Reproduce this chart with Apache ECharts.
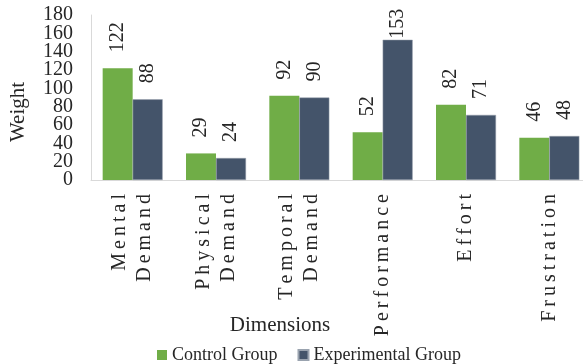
<!DOCTYPE html>
<html>
<head>
<meta charset="utf-8">
<script src="https://cdn.jsdelivr.net/npm/echarts@6/dist/echarts.min.js"></script>
<style>
  html, body { margin: 0; padding: 0; background: #fff; }
  #chart { width: 583px; height: 364px; }
</style>
</head>
<body>
<div id="chart"></div>
<script>
// NASA-TLX dimension weights for both groups
const categories = ['Mental\nDemand', 'Physical\nDemand', 'Temporal\nDemand', 'Performance', 'Effort', 'Frustration'];
const controlGroup = [122, 29, 92, 52, 82, 46];
const experimentalGroup = [88, 24, 90, 153, 71, 48];
const yTickValues = [0, 20, 40, 60, 80, 100, 120, 140, 160, 180];

const SERIF = '"Liberation Serif", "Times New Roman", serif';
const TEXT = '#262626';
const AXIS_LINE = '#D9D9D9';
const Y_MIN = yTickValues[0];
const Y_MAX = yTickValues[yTickValues.length - 1];

// Value labels sit above the bar; tall bars get their label tucked close
// to the bar top so it stays inside the plot.
function withLabels(values) {
  return values.map(v => (Y_MAX - v) < 32 ? { value: v, label: { distance: 1 } } : v);
}

// Spread out the letters of the category names
function spaced(text) {
  return text.split('\n').map(line => line.split('').join('\u2009')).join('\n');
}

// The tick labels are packed tighter than their text height, so they are
// split over two overlaid axes sharing one scale; that keeps every label shown.
function yAxisPart(values, showLine) {
  return {
    type: 'value',
    min: Y_MIN,
    max: Y_MAX,
    interval: 20,
    position: 'left',
    axisLine: { show: showLine, lineStyle: { color: AXIS_LINE, width: 1 } },
    axisTick: { show: false },
    splitLine: { show: false },
    axisLabel: {
      margin: 18,
      customValues: values,
      showMinLabel: true,
      showMaxLabel: true,
      hideOverlap: false,
      fontFamily: SERIF,
      fontSize: 20,
      color: TEXT
    }
  };
}

const valueLabel = {
  show: true,
  position: 'top',
  rotate: 90,
  align: 'left',
  verticalAlign: 'middle',
  distance: 16,
  fontFamily: SERIF,
  fontSize: 20,
  color: TEXT
};

const chart = echarts.init(document.getElementById('chart'), null, { renderer: 'canvas' });
chart.setOption({
  animation: false,
  grid: { left: 91, top: 15, width: 500, bottom: 184, containLabel: false, outerBoundsMode: 'none' },
  legend: {
    left: 152,
    top: 341,
    icon: 'rect',
    itemWidth: 10,
    itemHeight: 10,
    itemGap: 20,
    textStyle: { fontFamily: SERIF, fontSize: 18, color: TEXT },
    data: ['Control Group', 'Experimental Group']
  },
  xAxis: {
    type: 'category',
    data: categories,
    axisLine: { show: true, lineStyle: { color: AXIS_LINE, width: 1 } },
    axisTick: { show: false },
    axisLabel: {
      rotate: 90,
      margin: 14,
      interval: 0,
      hideOverlap: false,
      fontFamily: SERIF,
      fontSize: 20,
      lineHeight: 25,
      color: TEXT,
      formatter: spaced
    }
  },
  yAxis: [
    yAxisPart(yTickValues.filter((_, i) => i % 2 === 0), true),
    yAxisPart(yTickValues.filter((_, i) => i % 2 === 1), false)
  ],
  graphic: [
    {
      type: 'text',
      x: 18, y: 112,
      rotation: Math.PI / 2,
      style: { text: 'Weight', font: '21px ' + SERIF, fill: TEXT, textAlign: 'center', textVerticalAlign: 'middle' }
    },
    {
      type: 'text',
      x: 280, y: 325,
      style: { text: 'Dimensions', font: '21px ' + SERIF, fill: TEXT, textAlign: 'center', textVerticalAlign: 'middle' }
    }
  ],
  series: [
    {
      name: 'Control Group',
      type: 'bar',
      yAxisIndex: 0,
      data: withLabels(controlGroup),
      barWidth: 30,
      barGap: '0%',
      itemStyle: { color: '#70AD47' },
      label: valueLabel
    },
    {
      name: 'Experimental Group',
      type: 'bar',
      yAxisIndex: 0,
      data: withLabels(experimentalGroup),
      barWidth: 30,
      barGap: '0%',
      itemStyle: { color: '#44546A', borderColor: '#9AA3AF', borderWidth: 0.5 },
      label: valueLabel
    }
  ]
});
</script>
</body>
</html>
